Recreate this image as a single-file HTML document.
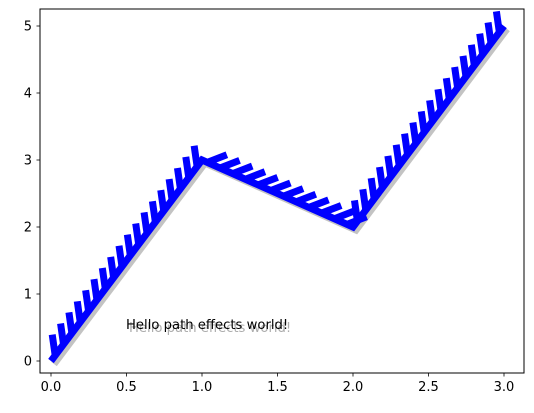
<!DOCTYPE html>
<html><head><meta charset="utf-8"><style>
body{margin:0;background:#fff;}
svg{display:block;font-family:"DejaVu Sans","Liberation Sans",sans-serif;}
</style></head><body>
<svg id="chart" width="534" height="413" viewBox="0 0 534 413">
<rect x="40" y="9" width="484" height="364" fill="#fff" stroke="#000" stroke-width="1"/>
<g id="shadow"></g>
<g id="ticks"></g>
<g id="line"></g>
<g id="axes"></g>
<text x="129" y="332" font-size="13.2" fill="#999" fill-opacity="0.8">Hello path effects world!</text>
<text x="126" y="329" font-size="13.2" fill="#000">Hello path effects world!</text>
</svg>
<script>
const xValues=[0,1,2,3];
const yValues=[0,3,2,5];
const xTicks=[0,0.5,1,1.5,2,2.5,3];
const xTickLabels=["0.0","0.5","1.0","1.5","2.0","2.5","3.0"];
const yTicks=[0,1,2,3,4,5];
const yTickLabels=["0","1","2","3","4","5"];
const NS="http://www.w3.org/2000/svg";
function X(v){return 51+151*v;}
function Y(v){return 361-67*v;}
function mk(tag,attrs,parent){const e=document.createElementNS(NS,tag);for(const k in attrs)e.setAttribute(k,attrs[k]);parent.appendChild(e);return e;}
const pts=xValues.map((x,i)=>[X(x),Y(yValues[i])]);
const d=pts.map((p,i)=>(i?"L":"M")+p[0]+","+p[1]).join(" ");
const sh=mk("path",{d:d,fill:"none",stroke:"#888","stroke-opacity":"0.5","stroke-width":"7",transform:"translate(3,3)"},document.getElementById("shadow"));


const ln=mk("path",{d:d,fill:"none",stroke:"#0000ff","stroke-width":"7","stroke-linejoin":"miter"},document.getElementById("line"));


const tg=document.getElementById("ticks");
const spacing=13.9,tlen=21,ang=45*Math.PI/180;
let carry=spacing/2;
for(let i=0;i<pts.length-1;i++){
  const [x0,y0]=pts[i],[x1,y1]=pts[i+1];
  const L=Math.hypot(x1-x0,y1-y0);const ux=(x1-x0)/L,uy=(y1-y0)/L;
  const c=Math.cos(-ang),s=Math.sin(-ang);
  const tx=ux*c-uy*s,ty=ux*s+uy*c;
  for(let t=carry;t<=L;t+=spacing){
    const px=x0+ux*t,py=y0+uy*t;
    const tk=mk("line",{x1:px,y1:py,x2:px+tx*tlen,y2:py+ty*tlen,stroke:"#0000ff","stroke-width":"7"},tg);
    
    
    carry=t+spacing-L;
  }
}
const ax=document.getElementById("axes");
xTicks.forEach((v,i)=>{
  const x=X(v);
  const t=mk("line",{x1:x,y1:373,x2:x,y2:376.5,stroke:"#000","stroke-width":"0.8"},ax);
  
  
  const l=mk("text",{x:x,y:391,"font-size":"13","text-anchor":"middle"},ax);
  l.textContent=xTickLabels[i];
  
  
});
yTicks.forEach((v,i)=>{
  const y=Y(v);
  const t=mk("line",{x1:36.5,y1:y,x2:40,y2:y,stroke:"#000","stroke-width":"0.8"},ax);
  
  
  const l=mk("text",{x:32,y:y+4.5,"font-size":"13","text-anchor":"end"},ax);
  l.textContent=yTickLabels[i];
  
  
});
</script>
</body></html>
